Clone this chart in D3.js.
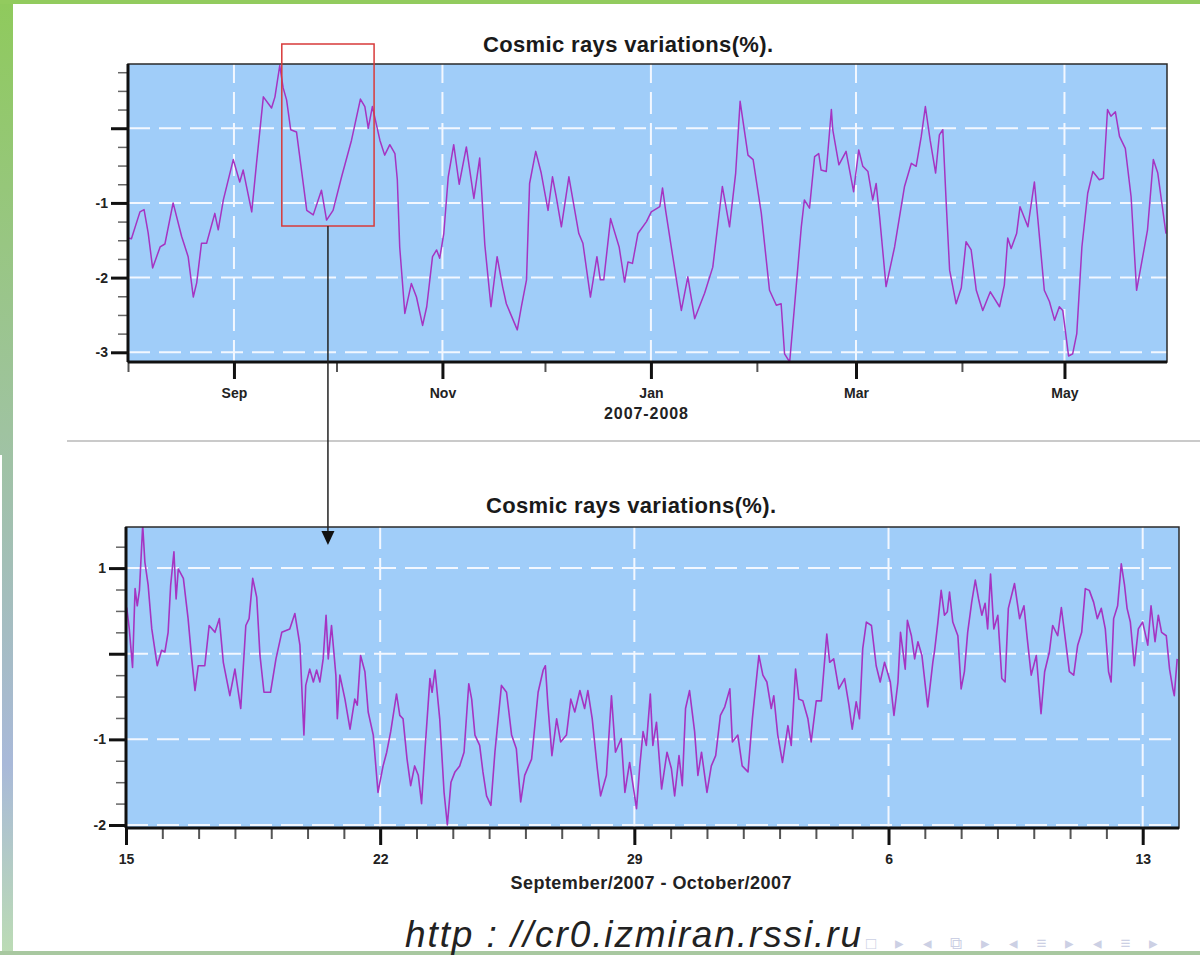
<!DOCTYPE html>
<html>
<head>
<meta charset="utf-8">
<script src="https://cdn.jsdelivr.net/npm/d3@7"></script>
<style>
body { margin: 0; background: #fff; }
svg { display: block; }
text { font-family: "Liberation Sans", Arial, sans-serif; }
</style>
</head>
<body>
<svg id="chart" width="1200" height="955"></svg>
<script>
// daily series, Aug 2007 - May 2008 (days since 1 Aug 2007)
var mainDays = [0,1,3.5,4.7,5.9,7.2,9.4,10.8,13.2,15.7,17.6,19.1,20.1,21.5,23,25.4,26.4,27.9,30.8,32.7,33.7,36.2,37.6,39.6,42,43,44.4,45.4,46.4,47.6,49.3,52.3,54.2,56.6,58.1,60,62.5,65.4,68,69.3,70.3,71.5,73.7,75.1,76.6,78.1,78.8,79.5,81,82.9,84.4,86.2,87.4,89.1,90.3,91.2,92.4,93.7,95.3,96.9,99,101.2,102.9,104.4,106.2,108,109.6,110.7,113.9,115.1,116.6,117.5,119.3,120.9,122.9,124.2,125.3,126.8,129,131.9,133.1,135.3,137.2,138.2,139.2,141.2,143.7,145.3,146.3,147.6,149.2,151.7,153.1,155.6,156.4,157.3,159.4,161.9,163.8,165.8,168.7,171.1,173.9,176,177.8,179.1,181.4,182.9,185.3,187.7,189.7,191.1,192.1,193.6,195,197,197.9,199.4,200.9,202.1,202.8,204.3,205.8,206.2,208,210.1,212.3,213.8,215,216.5,217.9,218.9,219.9,221.8,224.3,227.2,229.2,230.6,232.1,233.3,234.7,236.3,237.4,238.4,239.4,240.4,242.3,243.8,245.2,246.7,248.2,250.1,252.3,255,256.4,257.4,258.4,260,261,263.3,265.2,266.2,268.1,269.6,271.1,272.5,273.5,275.2,276.4,277.6,279.1,280.8,282.3,284.2,285.4,286.6,287.6,288.9,290.1,291.8,293.5,295.1,296.9,298.3,300,301.3,303.7];
var mainValues = [-1.47,-1.48,-1.12,-1.09,-1.40,-1.87,-1.59,-1.55,-1.00,-1.45,-1.72,-2.26,-2.07,-1.54,-1.54,-1.14,-1.36,-0.96,-0.42,-0.72,-0.56,-1.12,-0.47,0.42,0.27,0.42,0.84,0.54,0.38,-0.02,-0.05,-1.10,-1.16,-0.83,-1.23,-1.10,-0.65,-0.16,0.39,0.29,0.0,0.29,-0.16,-0.36,-0.22,-0.34,-0.69,-1.59,-2.48,-2.08,-2.26,-2.64,-2.39,-1.72,-1.63,-1.74,-1.41,-0.65,-0.22,-0.75,-0.25,-0.94,-0.40,-1.56,-2.39,-1.72,-2.12,-2.35,-2.70,-2.39,-2.03,-0.74,-0.31,-0.60,-1.10,-0.65,-0.92,-1.32,-0.65,-1.41,-1.54,-2.26,-1.72,-2.03,-2.03,-1.21,-1.59,-2.06,-1.79,-1.81,-1.41,-1.25,-1.12,-1.05,-0.80,-1.10,-1.72,-2.44,-1.99,-2.55,-2.21,-1.86,-0.78,-1.32,-0.60,0.36,-0.36,-0.42,-1.14,-2.17,-2.37,-2.35,-3.02,-3.13,-2.39,-1.32,-0.96,-1.07,-0.38,-0.34,-0.56,-0.58,0.25,-0.02,-0.49,-0.31,-0.85,-0.29,-0.51,-0.58,-0.96,-0.74,-1.18,-2.12,-1.59,-0.78,-0.47,-0.51,-0.11,0.29,-0.16,-0.60,-0.09,-0.02,-1.00,-1.90,-2.35,-2.14,-1.52,-1.63,-2.17,-2.44,-2.19,-2.39,-2.10,-1.47,-1.61,-1.41,-1.05,-1.32,-0.72,-1.21,-2.17,-2.32,-2.57,-2.39,-2.44,-3.05,-3.02,-2.75,-1.59,-0.87,-0.58,-0.69,-0.67,0.25,0.16,0.22,-0.11,-0.27,-0.92,-2.17,-1.72,-1.36,-0.42,-0.60,-1.41];

// hourly-ish series, 15 Sep - 14 Oct 2007 (days since 15 Sep 2007)
var zoomDays = [0.02,0.09,0.18,0.25,0.31,0.37,0.46,0.52,0.61,0.71,0.86,0.98,1.07,1.16,1.23,1.32,1.38,1.44,1.58,1.71,1.81,1.90,1.99,2.17,2.29,2.45,2.57,2.68,2.86,3.00,3.16,3.30,3.39,3.49,3.60,3.69,3.80,3.98,4.13,4.29,4.51,4.65,4.79,4.90,4.95,5.06,5.16,5.25,5.34,5.43,5.51,5.57,5.66,5.78,5.82,5.89,6.03,6.17,6.30,6.37,6.46,6.58,6.67,6.81,6.94,7.08,7.18,7.29,7.45,7.54,7.63,7.74,7.84,7.95,8.05,8.14,8.23,8.37,8.43,8.51,8.64,8.76,8.85,8.95,9.06,9.19,9.31,9.44,9.52,9.61,9.74,9.83,9.93,10.05,10.16,10.34,10.48,10.62,10.75,10.87,10.98,11.17,11.35,11.49,11.55,11.62,11.73,11.86,11.97,12.13,12.25,12.36,12.50,12.63,12.72,12.84,12.98,13.07,13.23,13.37,13.48,13.64,13.74,13.87,14.06,14.15,14.24,14.33,14.44,14.51,14.61,14.75,14.90,15.02,15.11,15.23,15.32,15.41,15.52,15.66,15.75,15.85,16.00,16.12,16.24,16.37,16.49,16.63,16.70,16.85,16.97,17.13,17.25,17.43,17.54,17.65,17.77,17.84,17.95,18.08,18.23,18.32,18.44,18.53,18.64,18.78,18.87,19.01,19.15,19.30,19.38,19.49,19.63,19.79,19.91,20.00,20.11,20.20,20.29,20.39,20.53,20.66,20.77,20.89,21.05,21.15,21.26,21.33,21.46,21.52,21.63,21.72,21.81,21.92,22.08,22.22,22.27,22.36,22.45,22.54,22.62,22.68,22.77,22.91,23.00,23.09,23.18,23.29,23.39,23.48,23.57,23.66,23.73,23.81,23.90,24.01,24.12,24.21,24.30,24.47,24.61,24.73,24.82,24.93,25.07,25.20,25.30,25.43,25.52,25.66,25.76,25.89,25.98,26.10,26.21,26.32,26.42,26.53,26.65,26.75,26.86,26.97,27.06,27.13,27.20,27.31,27.41,27.50,27.57,27.66,27.77,27.88,28.00,28.14,28.23,28.34,28.43,28.52,28.65,28.74,28.83,28.87,28.95];
var zoomValues = [0.54,0.29,-0.16,0.76,0.56,0.74,1.5,1.07,0.80,0.29,-0.14,0.04,0.02,0.25,0.80,1.19,0.64,0.99,0.88,0.41,-0.06,-0.43,-0.14,-0.14,0.33,0.25,0.41,-0.10,-0.49,-0.18,-0.64,0.33,0.41,0.88,0.66,-0.02,-0.45,-0.45,-0.06,0.25,0.29,0.47,0.10,-0.95,-0.37,-0.18,-0.33,-0.19,-0.33,-0.06,0.45,-0.06,0.33,-0.25,-0.76,-0.25,-0.53,-0.88,-0.53,-0.60,-0.02,-0.21,-0.68,-0.95,-1.62,-1.31,-1.15,-0.91,-0.47,-0.72,-0.76,-1.23,-1.54,-1.31,-1.42,-1.75,-1.15,-0.29,-0.45,-0.19,-0.76,-1.62,-2.0,-1.50,-1.38,-1.31,-1.15,-0.35,-0.53,-0.95,-1.07,-1.38,-1.66,-1.77,-1.15,-0.37,-0.45,-0.95,-1.11,-1.73,-1.42,-1.23,-0.45,-0.19,-0.14,-0.60,-1.19,-0.76,-1.03,-0.95,-0.53,-0.68,-0.43,-0.64,-0.43,-0.76,-1.34,-1.66,-1.42,-0.49,-1.15,-0.99,-1.62,-1.27,-1.81,-1.31,-0.91,-1.07,-0.47,-1.07,-0.80,-1.58,-1.15,-1.34,-1.66,-1.19,-1.54,-0.64,-0.43,-0.91,-1.42,-1.15,-1.62,-1.31,-1.19,-0.72,-0.62,-0.41,-1.03,-0.95,-1.31,-1.38,-0.76,-0.02,-0.25,-0.33,-0.64,-0.49,-0.95,-1.27,-0.84,-1.07,-0.18,-0.53,-0.55,-0.76,-1.03,-0.55,-0.55,0.23,-0.10,-0.06,-0.41,-0.29,-0.60,-0.88,-0.56,-0.76,0.06,0.37,0.33,-0.14,-0.33,-0.10,-0.33,-0.72,-0.33,0.25,-0.18,0.39,0.21,-0.06,0.14,-0.02,-0.62,-0.10,0.04,0.37,0.74,0.45,0.49,0.72,0.37,0.21,-0.41,-0.21,0.25,0.60,0.86,0.64,0.45,0.59,0.29,0.93,0.29,0.45,-0.29,-0.33,0.53,0.82,0.41,0.56,0.18,-0.25,-0.02,-0.70,-0.21,0.02,0.33,0.21,0.54,0.10,-0.21,-0.25,0.10,0.25,0.76,0.74,0.60,0.41,0.53,0.29,-0.21,-0.33,0.41,0.56,1.05,0.80,0.53,0.37,-0.14,0.29,0.37,0.10,0.56,0.14,0.45,0.25,0.21,-0.18,-0.41,-0.49,-0.06];

var mainMonthTicks = ['2007-09-01','2007-11-01','2008-01-01','2008-03-01','2008-05-01'];
var mainMonthLabels = ['Sep','Nov','Jan','Mar','May'];
var mainMinorMonths = ['2007-08-01','2007-10-01','2007-12-01','2008-02-01','2008-04-01'];
var zoomWeekLabels = ['15','22','29','6','13'];

var title = 'Cosmic rays variations(%).';
var mainXTitle = '2007-2008';
var zoomXTitle = 'September/2007 - October/2007';

var DAY = 864e5;
var mainStart = Date.UTC(2007, 7, 1);
var zoomStart = Date.UTC(2007, 8, 15);

var svg = d3.select('#chart');
var lineColor = '#a534c2';
var plotFill = '#a0cdf9';
var gridDash = '22,9';

// slide decoration
var defs = svg.append('defs');
var grad = defs.append('linearGradient').attr('id', 'side').attr('x1', 0).attr('x2', 0).attr('y1', 0).attr('y2', 1);
grad.append('stop').attr('offset', '0%').attr('stop-color', '#8fca5c');
grad.append('stop').attr('offset', '45%').attr('stop-color', '#9fc3a0');
grad.append('stop').attr('offset', '80%').attr('stop-color', '#a9b9d9');
grad.append('stop').attr('offset', '100%').attr('stop-color', '#bcdcb4');
svg.append('rect').attr('x', 0).attr('y', 0).attr('width', 13).attr('height', 955).attr('fill', 'url(#side)');
svg.append('rect').attr('x', 0).attr('y', 455).attr('width', 2).attr('height', 500).attr('fill', '#fff');
svg.append('rect').attr('x', 0).attr('y', 0).attr('width', 1200).attr('height', 4).attr('fill', '#92cb5e');
svg.append('rect').attr('x', 0).attr('y', 951).attr('width', 1200).attr('height', 4).attr('fill', '#a8c8a0');
svg.append('line').attr('x1', 67).attr('x2', 1200).attr('y1', 441).attr('y2', 441)
	.attr('stroke', '#b8b8b8').attr('stroke-width', 1.5);

var drawPanel = function (opt) {
	var g = svg.append('g');
	var x = opt.x, y = opt.y;
	var r = x.range(), yr = y.range();
	var clipId = opt.id + '-clip';

	defs.append('clipPath').attr('id', clipId).append('rect')
		.attr('x', r[0]).attr('y', yr[1]).attr('width', r[1] - r[0]).attr('height', yr[0] - yr[1]);

	g.append('rect').attr('x', r[0]).attr('y', yr[1]).attr('width', r[1] - r[0]).attr('height', yr[0] - yr[1])
		.attr('fill', plotFill);

	// dashed grid
	g.selectAll('line.hgrid').data(opt.yMajor).enter().append('line')
		.attr('x1', r[0]).attr('x2', r[1]).attr('y1', function (d) { return y(d); }).attr('y2', function (d) { return y(d); })
		.attr('stroke', '#f2f7ff').attr('stroke-width', 2).attr('stroke-dasharray', gridDash);
	g.selectAll('line.vgrid').data(opt.xGrid).enter().append('line')
		.attr('y1', yr[0]).attr('y2', yr[1]).attr('x1', function (d) { return x(d); }).attr('x2', function (d) { return x(d); })
		.attr('stroke', '#f2f7ff').attr('stroke-width', 2).attr('stroke-dasharray', gridDash);

	var line = d3.line()
		.x(function (d) { return x(d.date); })
		.y(function (d) { return y(d.value); });
	g.append('path').datum(opt.data)
		.attr('clip-path', 'url(#' + clipId + ')')
		.attr('fill', 'none').attr('stroke', lineColor).attr('stroke-width', opt.lineWidth)
		.attr('stroke-linejoin', 'round')
		.attr('d', line);

	// frame
	g.append('rect').attr('x', r[0]).attr('y', yr[1]).attr('width', r[1] - r[0]).attr('height', yr[0] - yr[1])
		.attr('fill', 'none').attr('stroke', '#2a2a2a').attr('stroke-width', 1.5);

	// y axis: minor then major
	var yMinor = g.append('g').attr('transform', 'translate(' + r[0] + ',0)')
		.call(d3.axisLeft(y).tickValues(opt.yMinor).tickSize(10).tickFormat(''));
	yMinor.select('.domain').remove();
	yMinor.selectAll('line').attr('stroke', '#666').attr('stroke-width', 1.5);

	var yMaj = g.append('g').attr('transform', 'translate(' + r[0] + ',0)')
		.call(d3.axisLeft(y).tickValues(opt.yMajor).tickSize(17).tickPadding(3)
			.tickFormat(function (d) { return d === 0 ? '' : String(d); }));
	yMaj.select('.domain').attr('stroke', '#111').attr('stroke-width', 3)
		.attr('d', 'M0,' + yr[0] + 'V' + yr[1]);
	yMaj.selectAll('line').attr('stroke', '#111').attr('stroke-width', 3);
	yMaj.selectAll('text').attr('font-size', 14).attr('font-weight', 'bold').attr('fill', '#222')
		.attr('font-family', '"Liberation Sans", Arial, sans-serif');

	// x axis: minor then major
	var xMinor = g.append('g').attr('transform', 'translate(0,' + yr[0] + ')')
		.call(d3.axisBottom(x).tickValues(opt.xMinor).tickSize(opt.minorLen).tickFormat(''));
	xMinor.select('.domain').remove();
	xMinor.selectAll('line').attr('stroke', '#555').attr('stroke-width', 2);

	var xMaj = g.append('g').attr('transform', 'translate(0,' + yr[0] + ')')
		.call(d3.axisBottom(x).tickValues(opt.xMajor).tickSize(17).tickPadding(opt.labelPad)
			.tickFormat(function (d, i) { return opt.xLabels[i]; }));
	xMaj.select('.domain').attr('stroke', '#111').attr('stroke-width', 3)
		.attr('d', 'M' + r[0] + ',0H' + r[1]);
	xMaj.selectAll('line').attr('stroke', '#111').attr('stroke-width', 3);
	xMaj.selectAll('text').attr('font-size', 14).attr('font-weight', 'bold').attr('fill', '#222')
		.attr('font-family', '"Liberation Sans", Arial, sans-serif');

	// titles
	g.append('text').attr('x', opt.titleX - 145).attr('y', opt.titleY)
		.attr('font-size', 22).attr('font-weight', 'bold').attr('fill', '#1a1a1a')
		.attr('textLength', 290).attr('lengthAdjust', 'spacing').text(title);
	g.append('text').attr('x', opt.xTitleX - opt.xTitleW / 2).attr('y', opt.xTitleY)
		.attr('font-size', opt.xTitleSize).attr('font-weight', 'bold').attr('fill', '#222')
		.attr('textLength', opt.xTitleW).attr('lengthAdjust', 'spacing').text(opt.xTitle);
	return g;
};

// top panel
var mainData = mainDays.map(function (d, i) { return {date: new Date(mainStart + d * DAY), value: mainValues[i]}; });
var x1 = d3.scaleUtc().domain([new Date(mainStart), new Date(Date.UTC(2008, 4, 31))]).range([128, 1167]);
var y1 = d3.scaleLinear().domain([-3.13, 0.86]).range([362, 64]);
var parse = d3.utcParse('%Y-%m-%d');

drawPanel({
	id: 'main', x: x1, y: y1, data: mainData, lineWidth: 1.5,
	yMajor: [-3, -2, -1, 0],
	yMinor: d3.range(-3, 0.76, 0.25),
	xMajor: mainMonthTicks.map(parse),
	xLabels: mainMonthLabels,
	xMinor: mainMinorMonths.map(parse),
	xGrid: mainMonthTicks.map(parse),
	minorLen: 10, labelPad: 9,
	titleX: 628, titleY: 52,
	xTitleX: 646, xTitleY: 419, xTitleW: 84, xTitleSize: 16, xTitle: mainXTitle
});

// bottom panel
var zoomData = zoomDays.map(function (d, i) { return {date: new Date(zoomStart + d * DAY), value: zoomValues[i]}; });
var x2 = d3.scaleUtc().domain([new Date(zoomStart), new Date(Date.UTC(2007, 9, 14))]).range([126, 1179]);
var y2 = d3.scaleLinear().domain([-2.035, 1.48]).range([828, 527]);
var weekTicks = [0, 7, 14, 21, 28].map(function (d) { return new Date(zoomStart + d * DAY); });

drawPanel({
	id: 'zoom', x: x2, y: y2, data: zoomData, lineWidth: 1.6,
	yMajor: [-2, -1, 0, 1],
	yMinor: d3.range(-2, 1.26, 0.25),
	xMajor: weekTicks,
	xLabels: zoomWeekLabels,
	xMinor: d3.range(0, 29).map(function (d) { return new Date(zoomStart + d * DAY); }),
	xGrid: weekTicks.slice(1),
	minorLen: 11, labelPad: 9,
	titleX: 631, titleY: 513,
	xTitleX: 651, xTitleY: 889, xTitleW: 281, xTitleSize: 18, xTitle: zoomXTitle
});

// highlight box + arrow
var boxLeft = x1(new Date(Date.UTC(2007, 8, 15)));
var boxRight = x1(new Date(Date.UTC(2007, 9, 12)));
svg.append('rect').attr('x', boxLeft).attr('y', 44).attr('width', boxRight - boxLeft).attr('height', 182)
	.attr('fill', 'none').attr('stroke', '#d83a3a').attr('stroke-width', 1.5);
var ax = x1(new Date(Date.UTC(2007, 8, 28, 12)));
svg.append('line').attr('x1', ax).attr('x2', ax).attr('y1', 226).attr('y2', 532)
	.attr('stroke', '#222').attr('stroke-width', 1.5);
svg.append('path').attr('d', 'M' + (ax - 6.5) + ',531L' + (ax + 6.5) + ',531L' + ax + ',545Z').attr('fill', '#111');

// footer url
svg.append('text').attr('x', 405).attr('y', 947)
	.attr('font-family', 'Lato, "Open Sans", sans-serif').attr('font-style', 'italic').attr('font-weight', 300)
	.attr('font-size', 37).attr('fill', '#222')
	.attr('textLength', 456).attr('lengthAdjust', 'spacing')
	.text('http : //cr0.izmiran.rssi.ru');
svg.append('text').attr('x', 866).attr('y', 949)
	.attr('font-family', '"DejaVu Sans", sans-serif').attr('font-size', 17).attr('fill', '#ccd0e4')
	.attr('textLength', 292).attr('lengthAdjust', 'spacing')
	.text('\u25A1 \u25B8 \u25C2 \u29C9 \u25B8 \u25C2 \u2261 \u25B8 \u25C2 \u2261 \u25B8');
</script>
</body>
</html>
